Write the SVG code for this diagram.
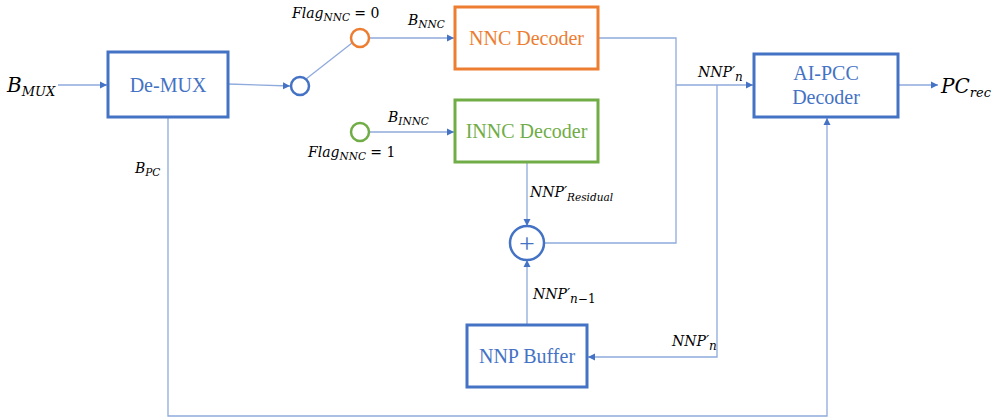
<svg xmlns="http://www.w3.org/2000/svg" width="993" height="419" viewBox="0 0 993 419">
<defs>
<style>
.box{fill:#fff;stroke-width:3}
.blue{stroke:#4472C4}
.orange{stroke:#ED7D31}
.green{stroke:#70AD47}
.lbl{font-family:'Liberation Serif','Times New Roman',serif;font-size:20px;text-anchor:middle}
.math{font-family:'DejaVu Serif',serif;font-style:italic;font-size:14px;fill:#000}
.up{font-style:normal}
.sub{font-size:10.5px}
.sub12{font-size:12px}
.sub15{font-size:13px}
.big{font-size:20px}
.conn{fill:none;stroke:#8FAADC;stroke-width:1.3}
.ring{fill:#fff;stroke-width:2.5}
</style>
<marker id="arr" markerWidth="8" markerHeight="8" refX="7" refY="4" orient="auto" markerUnits="userSpaceOnUse">
<path d="M0,0.5 L7,4 L0,7.5 Z" fill="#4472C4"/>
</marker>
</defs>
<rect width="993" height="419" fill="#fff"/>

<g id="connectors">
<path class="conn" d="M58,85 H107" marker-end="url(#arr)"/>
<path class="conn" d="M228,84 L290,86" marker-end="url(#arr)"/>
<path class="conn" d="M306,79 L352,43"/>
<path class="conn" d="M370,38 H454" marker-end="url(#arr)"/>
<path class="conn" d="M370,132 H454" marker-end="url(#arr)"/>
<path class="conn" d="M598,38 H676 V243 H544"/>
<path class="conn" d="M676,85 H753" marker-end="url(#arr)"/>
<path class="conn" d="M717,85 V357 H588" marker-end="url(#arr)"/>
<path class="conn" d="M527,163 V226" marker-end="url(#arr)"/>
<path class="conn" d="M527,324 V260" marker-end="url(#arr)"/>
<path class="conn" d="M898,85 H938" marker-end="url(#arr)"/>
<path class="conn" d="M168,117 V416 H827 V118" marker-end="url(#arr)"/>
</g>

<g id="demux">
<rect class="box blue" x="108" y="52" width="120" height="65"/>
<text class="lbl" x="168" y="92" fill="#4472C4">De-MUX</text>
</g>

<g id="switch-in">
<circle class="ring blue" cx="300" cy="86" r="9"/>
</g>
<g id="switch-nnc">
<circle class="ring orange" cx="360" cy="38" r="9"/>
</g>
<g id="switch-innc">
<circle class="ring green" cx="360" cy="132" r="9"/>
</g>

<g id="nnc-decoder">
<rect class="box orange" x="455" y="7" width="143" height="62"/>
<text class="lbl" x="526.5" y="45" fill="#ED7D31">NNC Decoder</text>
</g>

<g id="innc-decoder">
<rect class="box green" x="455" y="100" width="143" height="62"/>
<text class="lbl" x="526.5" y="138" fill="#70AD47">INNC Decoder</text>
</g>

<g id="adder">
<circle class="ring blue" cx="527" cy="243" r="17"/>
<text x="527" y="252.5" font-family="Liberation Serif, serif" font-size="28" text-anchor="middle" fill="#4472C4">+</text>
</g>

<g id="nnp-buffer">
<rect class="box blue" x="467" y="325" width="120" height="62"/>
<text class="lbl" x="527" y="363" fill="#4472C4">NNP Buffer</text>
</g>

<g id="aipcc-decoder">
<rect class="box blue" x="754" y="54" width="144" height="63"/>
<text class="lbl" x="826" y="80" fill="#4472C4">AI-PCC</text>
<text class="lbl" x="826" y="104" fill="#4472C4">Decoder</text>
</g>

<g id="labels">
<text class="math big" x="7" y="92">B<tspan class="sub15" dy="4">MUX</tspan></text>
<text class="math" x="135" y="173">B<tspan class="sub" dy="3">PC</tspan></text>
<text class="math" x="292" y="18">Flag<tspan class="sub" dy="3">NNC</tspan><tspan class="up" dy="-3"> = 0</tspan></text>
<text class="math" x="408" y="25">B<tspan class="sub" dy="3">NNC</tspan></text>
<text class="math" x="388" y="122">B<tspan class="sub" dy="3">INNC</tspan></text>
<text class="math" x="308" y="157">Flag<tspan class="sub" dy="3">NNC</tspan><tspan class="up" dy="-3"> = 1</tspan></text>
<text class="math" x="698" y="77">NNP′<tspan class="sub12" dy="4">n</tspan></text>
<text class="math" x="530" y="197">NNP′<tspan class="sub" dy="4">Residual</tspan></text>
<text class="math" x="533" y="299">NNP′<tspan class="sub12" dy="4">n<tspan class="up">−1</tspan></tspan></text>
<text class="math" x="672" y="346">NNP′<tspan class="sub12" dy="4">n</tspan></text>
<text class="math big" x="941" y="93">PC<tspan class="sub15" dy="4">rec</tspan></text>
</g>
</svg>
